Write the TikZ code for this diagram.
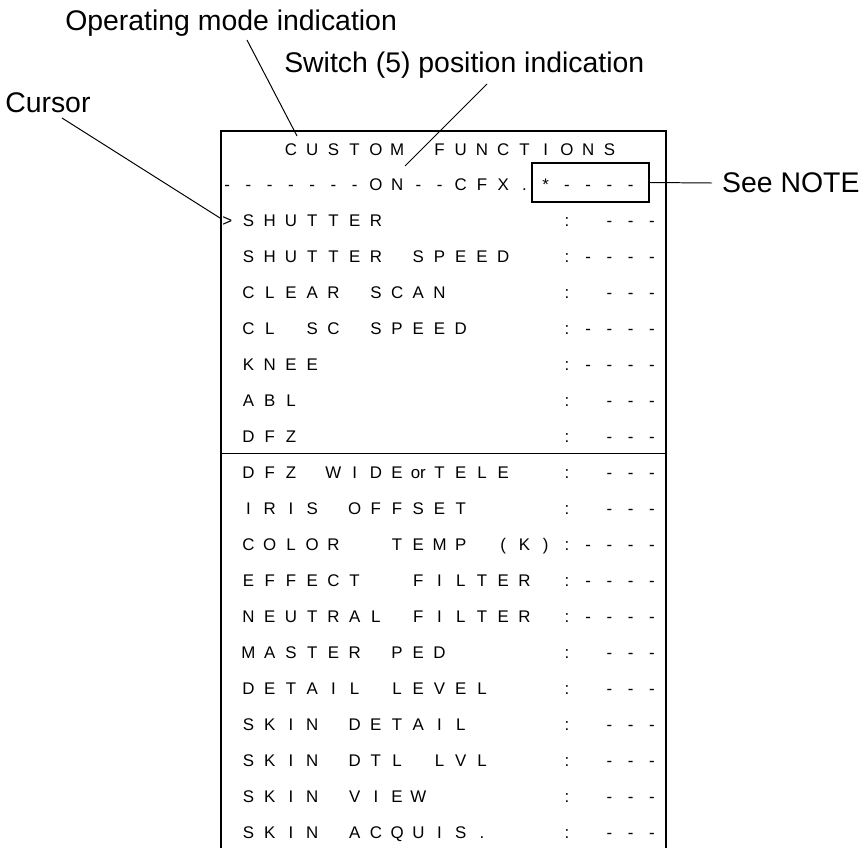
\documentclass[tikz,border=0pt]{standalone}
\usepackage{fontspec}
\setmainfont{Liberation Sans}
\usetikzlibrary{positioning}
\definecolor{Ink}{HTML}{000000}
\tikzset{
  rowtext/.style={anchor=base west, inner sep=0pt, font=\fontsize{12}{14}\selectfont, text=Ink},
  callout/.style={inner sep=0pt, font=\fontsize{20.2}{24}\selectfont, text=Ink},
  frameline/.style={draw=Ink, line width=1.4pt},
  divline/.style={draw=Ink, line width=1.1pt},
  notebox/.style={draw=Ink, line width=1.4pt, inner sep=0pt, minimum width=2.925cm, minimum height=0.975cm},
  leader/.style={draw=Ink, line width=0.7pt},
}
% one character per display cell, ~ = empty cell
\newcommand{\cells}[1]{\cellsloop#1\relax}
\def\cellsloop#1{\ifx\relax#1\else\makebox[15.1pt]{#1}\expandafter\cellsloop\fi}

\begin{document}
\begin{tikzpicture}[x=0.025cm, y=-0.025cm]
    \useasboundingbox (0,0) rectangle (865,848);
    % display frame
    \draw[frameline] (221,848) |- (666,131) -- (666,848);
    \draw[divline] (221,453.5) -- (666,453.5);
    % menu rows
    \node[rowtext] (row0) at (216.35,{155+35.95*0}) {\cells{~~~CUSTOM~FUNCTIONS}};
    \node[rowtext] (row1) at (216.35,{155+35.95*1}) {\cells{-------ON--CFX.*----}};
    \node[rowtext] (row2) at (216.35,{155+35.95*2}) {\cells{>SHUTTER~~~~~~~~:~---}};
    \node[rowtext] (row3) at (216.35,{155+35.95*3}) {\cells{~SHUTTER~SPEED~~:----}};
    \node[rowtext] (row4) at (216.35,{155+35.95*4}) {\cells{~CLEAR~SCAN~~~~~:~---}};
    \node[rowtext] (row5) at (216.35,{155+35.95*5}) {\cells{~CL~SC~SPEED~~~~:----}};
    \node[rowtext] (row6) at (216.35,{155+35.95*6}) {\cells{~KNEE~~~~~~~~~~~:----}};
    \node[rowtext] (row7) at (216.35,{155+35.95*7}) {\cells{~ABL~~~~~~~~~~~~:~---}};
    \node[rowtext] (row8) at (216.35,{155+35.95*8}) {\cells{~DFZ~~~~~~~~~~~~:~---}};
    \node[rowtext] (row9) at (216.35,{155+35.95*9}) {\cells{~DFZ~WIDE{or}TELE~~:~---}};
    \node[rowtext] (row10) at (216.35,{155+35.95*10}) {\cells{~IRIS~OFFSET~~~~:~---}};
    \node[rowtext] (row11) at (216.35,{155+35.95*11}) {\cells{~COLOR~~TEMP~(K):----}};
    \node[rowtext] (row12) at (216.35,{155+35.95*12}) {\cells{~EFFECT~~FILTER~:----}};
    \node[rowtext] (row13) at (216.35,{155+35.95*13}) {\cells{~NEUTRAL~FILTER~:----}};
    \node[rowtext] (row14) at (216.35,{155+35.95*14}) {\cells{~MASTER~PED~~~~~:~---}};
    \node[rowtext] (row15) at (216.35,{155+35.95*15}) {\cells{~DETAIL~LEVEL~~~:~---}};
    \node[rowtext] (row16) at (216.35,{155+35.95*16}) {\cells{~SKIN~DETAIL~~~~:~---}};
    \node[rowtext] (row17) at (216.35,{155+35.95*17}) {\cells{~SKIN~DTL~LVL~~~:~---}};
    \node[rowtext] (row18) at (216.35,{155+35.95*18}) {\cells{~SKIN~VIEW~~~~~~:~---}};
    \node[rowtext] (row19) at (216.35,{155+35.95*19}) {\cells{~SKIN~ACQUIS.~~~:~---}};
    % callouts
    \node[notebox] (notebox) at (590.5,182.5) {};
    \node[callout, anchor=base west] (oplbl) at (65,30) {Operating mode indication};
    \node[callout, anchor=base west] (swlbl) at (284,72) {Switch (5) position indication};
    \node[callout, anchor=base west] (curlbl) at (5,112) {Cursor};
    \node[callout, anchor=west, inner xsep=7pt] (notelbl) at (712,183) {See NOTE};
    \coordinate (opfoot) at (247,40);
    \coordinate (optip) at (297,136);
    \coordinate (swfoot) at (487,84);
    \coordinate (swtip) at (405,166);
    \coordinate (curfoot) at (62,118);
    \coordinate (curtip) at (220,218);
    \draw[leader] (opfoot) -- (optip);
    \draw[leader] (swfoot) -- (swtip);
    \draw[leader] (curfoot) -- (curtip);
    \draw[leader] (notebox.east) -- (notelbl.west);
  \end{tikzpicture}
\end{document}
